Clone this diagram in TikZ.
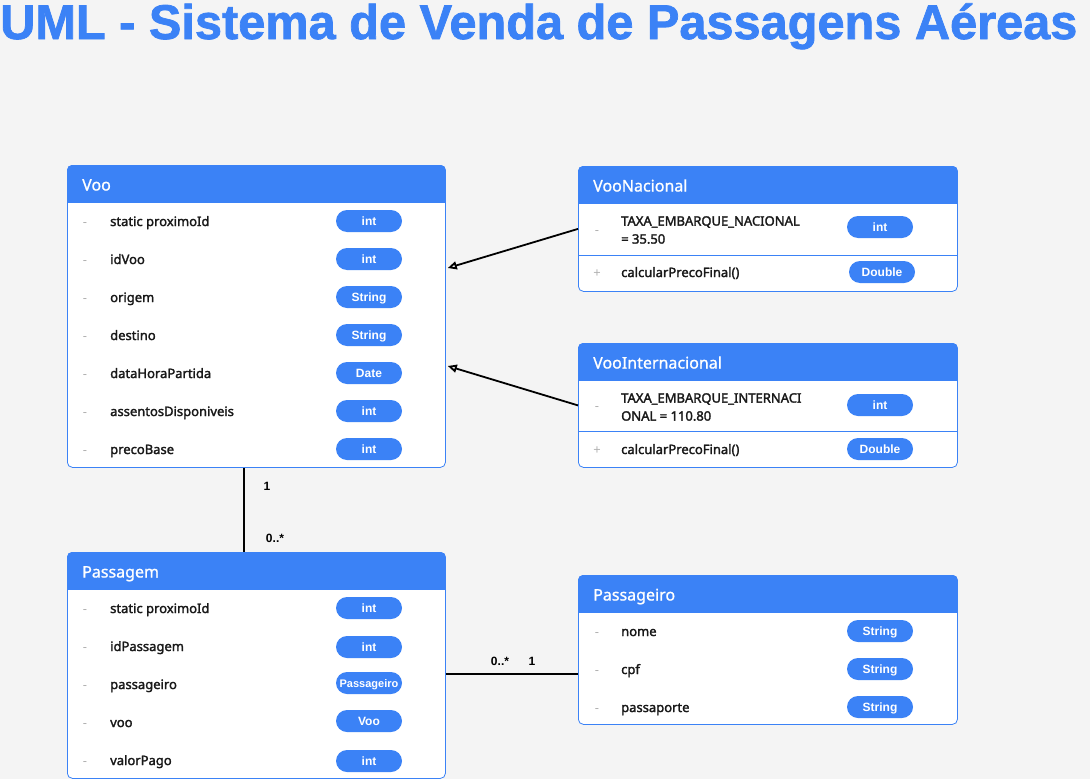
\documentclass[tikz,border=0pt]{standalone}
\usepackage{fontspec}
\setmainfont{Noto Sans}
\newfontfamily\titlefont{Liberation Sans}[BoldFeatures={FakeBold=1.5}]
\newfontfamily\labelfont{Liberation Sans}
\newfontfamily\attrfont{Noto Sans}[FakeBold=2]
\newfontfamily\namefont{Noto Sans}[FakeBold=1]
\usetikzlibrary{calc, arrows.meta}
\definecolor{umlblue}{HTML}{3B82F6}
\definecolor{bggray}{HTML}{F4F4F4}
\tikzset{
    classbox/.style={draw=umlblue, fill=white, rounded corners=5pt, line width=0.8pt,
        anchor=north west, inner sep=0pt},
    classname/.style={anchor=base west, inner sep=0pt, yshift=-6.5pt, text=white,
        font=\namefont\fontsize{16}{19}\selectfont},
    vis/.style={anchor=base, inner sep=0pt, yshift=-5pt, text=gray!60,
        font=\fontsize{13}{16}\selectfont},
    attr/.style={anchor=base west, inner sep=0pt, yshift=-5pt, text=black!90,
        font=\attrfont\fontsize{13}{18}\selectfont},
    attrlong/.style={anchor=west, inner sep=0pt, align=left, text=black!90,
        font=\attrfont\fontsize{13}{18}\selectfont},
    typepill/.style={fill=umlblue, text=white, rounded corners=11pt, minimum width=66pt,
        minimum height=22pt, inner sep=0pt, text height=8.5pt, text depth=0pt,
        font=\labelfont\bfseries\fontsize{12}{14}\selectfont},
    sepline/.style={draw=umlblue, line width=0.8pt},
    assoc/.style={line width=1.8pt},
    inherit/.style={line width=1.8pt, -{Triangle[open, length=9pt, width=8pt]}},
    mult/.style={font=\labelfont\bfseries\fontsize{12}{14}\selectfont},
}

\begin{document}
\begin{tikzpicture}[x=1pt, y=-1pt]
    \path[use as bounding box, fill=bggray] (0,0) rectangle (1090,779);

    \node[anchor=base west, inner sep=0pt, text=umlblue,
        font=\titlefont\bfseries\fontsize{48.7}{55}\selectfont] (title) at (0,39)
        {UML - Sistema de Venda de Passagens Aéreas};

    % Voo
    \node[classbox, minimum width=378pt, minimum height=302pt] (voo) at (67,165) {};
    \begin{scope}
        \clip[rounded corners=5pt] (voo.north west) rectangle (voo.south east);
        \fill[umlblue] (voo.north west) rectangle ($(voo.north east)+(0,38)$);
    \end{scope}
    \node[classname] (voo-name) at (82,184) {Voo};
    \node[vis] (voo-v1) at (85,221) {-};
    \node[attr] (voo-a1) at (110,221) {static proximoId};
    \node[typepill] (voo-t1) at (369,221) {int};
    \node[vis] (voo-v2) at (85,259) {-};
    \node[attr] (voo-a2) at (110,259) {idVoo};
    \node[typepill] (voo-t2) at (369,259) {int};
    \node[vis] (voo-v3) at (85,297) {-};
    \node[attr] (voo-a3) at (110,297) {origem};
    \node[typepill] (voo-t3) at (369,297) {String};
    \node[vis] (voo-v4) at (85,335) {-};
    \node[attr] (voo-a4) at (110,335) {destino};
    \node[typepill] (voo-t4) at (369,335) {String};
    \node[vis] (voo-v5) at (85,373) {-};
    \node[attr] (voo-a5) at (110,373) {dataHoraPartida};
    \node[typepill] (voo-t5) at (369,373) {Date};
    \node[vis] (voo-v6) at (85,411) {-};
    \node[attr] (voo-a6) at (110,411) {assentosDisponiveis};
    \node[typepill] (voo-t6) at (369,411) {int};
    \node[vis] (voo-v7) at (85,449) {-};
    \node[attr] (voo-a7) at (110,449) {precoBase};
    \node[typepill] (voo-t7) at (369,449) {int};

    % VooNacional
    \node[classbox, minimum width=379pt, minimum height=125pt] (vooNacional) at (578,166) {};
    \begin{scope}
        \clip[rounded corners=5pt] (vooNacional.north west) rectangle (vooNacional.south east);
        \fill[umlblue] (vooNacional.north west) rectangle ($(vooNacional.north east)+(0,38)$);
    \end{scope}
    \node[classname] (vooNacional-name) at (593,185) {VooNacional};
    \node[vis] (vooNacional-v1) at (597,229) {-};
    \node[attrlong] (vooNacional-a1) at (621,230) {TAXA\_EMBARQUE\_NACIONAL\\= 35.50};
    \node[typepill] (vooNacional-t1) at (880,227) {int};
    \draw[sepline] (578,255) -- (957,255);
    \node[vis] (vooNacional-v2) at (597,272) {+};
    \node[attr] (vooNacional-a2) at (621,272) {calcularPrecoFinal()};
    \node[typepill] (vooNacional-t2) at (882,272) {Double};

    % VooInternacional
    \node[classbox, minimum width=379pt, minimum height=124pt] (vooInternacional) at (578,343) {};
    \begin{scope}
        \clip[rounded corners=5pt] (vooInternacional.north west) rectangle (vooInternacional.south east);
        \fill[umlblue] (vooInternacional.north west) rectangle ($(vooInternacional.north east)+(0,38)$);
    \end{scope}
    \node[classname] (vooInternacional-name) at (593,362) {VooInternacional};
    \node[vis] (vooInternacional-v1) at (597,405) {-};
    \node[attrlong] (vooInternacional-a1) at (621,407) {TAXA\_EMBARQUE\_INTERNACI\\ONAL = 110.80};
    \node[typepill] (vooInternacional-t1) at (880,405) {int};
    \draw[sepline] (578,431) -- (957,431);
    \node[vis] (vooInternacional-v2) at (597,449) {+};
    \node[attr] (vooInternacional-a2) at (621,449) {calcularPrecoFinal()};
    \node[typepill] (vooInternacional-t2) at (880,449) {Double};

    % Passagem
    \node[classbox, minimum width=378pt, minimum height=226pt] (passagem) at (67,552) {};
    \begin{scope}
        \clip[rounded corners=5pt] (passagem.north west) rectangle (passagem.south east);
        \fill[umlblue] (passagem.north west) rectangle ($(passagem.north east)+(0,38)$);
    \end{scope}
    \node[classname] (passagem-name) at (82,571) {Passagem};
    \node[vis] (passagem-v1) at (85,608) {-};
    \node[attr] (passagem-a1) at (110,608) {static proximoId};
    \node[typepill] (passagem-t1) at (369,608) {int};
    \node[vis] (passagem-v2) at (85,646) {-};
    \node[attr] (passagem-a2) at (110,646) {idPassagem};
    \node[typepill] (passagem-t2) at (369,647) {int};
    \node[vis] (passagem-v3) at (85,684) {-};
    \node[attr] (passagem-a3) at (110,684) {passageiro};
    \node[typepill, font=\labelfont\bfseries\fontsize{11}{13}\selectfont] (passagem-t3) at (369,683) {Passageiro};
    \node[vis] (passagem-v4) at (85,722) {-};
    \node[attr] (passagem-a4) at (110,722) {voo};
    \node[typepill] (passagem-t4) at (369,721) {Voo};
    \node[vis] (passagem-v5) at (85,760) {-};
    \node[attr] (passagem-a5) at (110,760) {valorPago};
    \node[typepill] (passagem-t5) at (369,761) {int};

    % Passageiro
    \node[classbox, minimum width=379pt, minimum height=149pt] (passageiro) at (578,575) {};
    \begin{scope}
        \clip[rounded corners=5pt] (passageiro.north west) rectangle (passageiro.south east);
        \fill[umlblue] (passageiro.north west) rectangle ($(passageiro.north east)+(0,38)$);
    \end{scope}
    \node[classname] (passageiro-name) at (593,594) {Passageiro};
    \node[vis] (passageiro-v1) at (597,631) {-};
    \node[attr] (passageiro-a1) at (621,631) {nome};
    \node[typepill] (passageiro-t1) at (880,631) {String};
    \node[vis] (passageiro-v2) at (597,669) {-};
    \node[attr] (passageiro-a2) at (621,669) {cpf};
    \node[typepill] (passageiro-t2) at (880,669) {String};
    \node[vis] (passageiro-v3) at (597,707) {-};
    \node[attr] (passageiro-a3) at (621,707) {passaporte};
    \node[typepill] (passageiro-t3) at (880,707) {String};

    % heranca
    \coordinate (vooNac-in) at ($(voo.north east)+(2,103)$);
    \coordinate (vooInt-in) at ($(voo.north east)+(2,201)$);
    \draw[inherit] (vooNacional.west) -- (vooNac-in);
    \draw[inherit] (vooInternacional.west) -- (vooInt-in);

    % associacoes
    \coordinate (voo-out) at ($(voo.south west)+(177,0)$);
    \coordinate (passagem-in) at ($(passagem.north west)+(177,0)$);
    \draw[assoc] (voo-out) -- (passagem-in);
    \node[mult] (mult-voo) at (267,486) {1};
    \node[mult] (mult-passagem) at (275,538) {0..*};

    \coordinate (passagem-out) at ($(passagem.north east)+(0,122)$);
    \coordinate (passageiro-in) at ($(passageiro.north west)+(0,99)$);
    \draw[assoc] (passagem-out) -- (passageiro-in);
    \node[mult] (mult-passagens) at (500,661) {0..*};
    \node[mult] (mult-passageiro) at (532,661) {1};
\end{tikzpicture}
\end{document}
